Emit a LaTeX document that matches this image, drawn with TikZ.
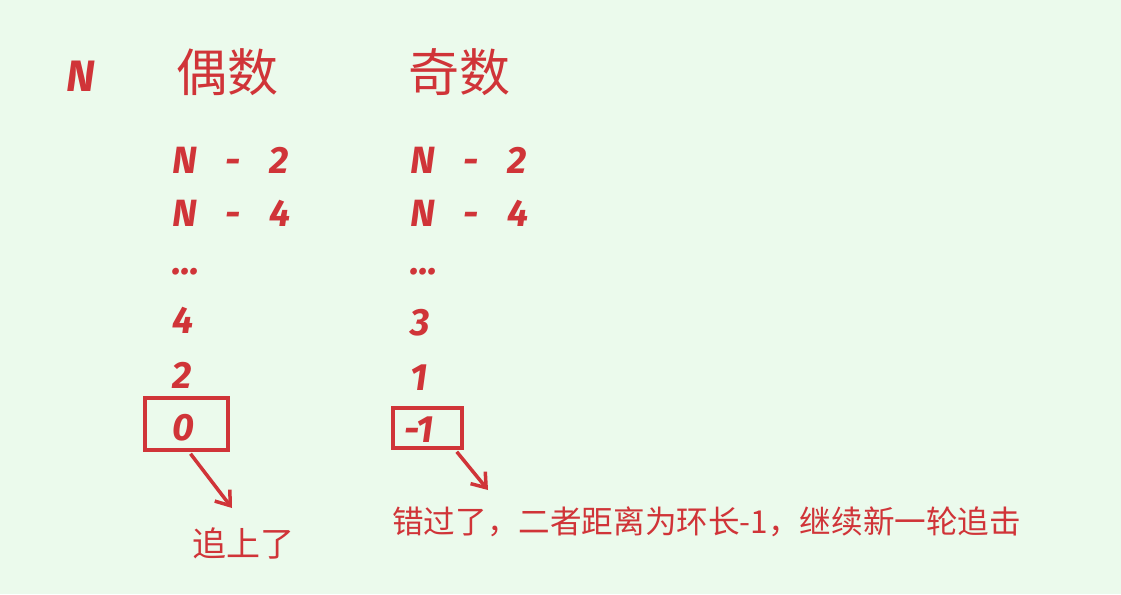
\documentclass[tikz,border=0pt]{standalone}
\usepackage{fontspec}
\setmainfont{Fira Sans}
\newfontfamily\cjk{Noto Sans CJK SC}
\usetikzlibrary{arrows.meta, positioning}
\definecolor{inkred}{HTML}{D03438}
\definecolor{paper}{HTML}{EBFAEC}
\newcommand{\gap}{\hspace{0.75em}}
\tikzset{
  hand/.style={text=inkred, anchor=west, inner sep=0pt, font=\fontsize{38}{40}\selectfont\itshape\bfseries},
  head/.style={text=inkred, anchor=west, inner sep=0pt, font=\fontsize{51}{53}\selectfont\cjk},
  note/.style={text=inkred, anchor=west, inner sep=0pt, font=\fontsize{31.6}{33}\selectfont\cjk},
  hit/.style={draw=inkred, line width=3.5pt},
  pointer/.style={draw=inkred, line width=3.5pt, -{Straight Barb[length=13pt, width=19pt, line width=3.5pt]}}
}
\begin{document}
\begin{tikzpicture}[x=1pt, y=-1pt]
\fill[paper] (0,0) rectangle (1121,594);
\useasboundingbox (0,0) rectangle (1121,594);

% headings
\node[hand, font=\fontsize{44}{46}\selectfont\itshape\bfseries] (n) at (66,76) {N};
\node[head] (even) at (176,72) {偶数};
\node[head] (odd) at (408,72) {奇数};

% even column
\node[hand] (e1) at (172,160) {N\gap-\gap2};
\node[hand] (e2) at (172,213) {N\gap-\gap4};
\node[hand] (e3) at (172,272) {...};
\node[hand] (e4) at (172,320) {4};
\node[hand] (e5) at (172,375) {2};
\node[hand] (e6) at (172,428) {0};
\node[hit, minimum width=83pt, minimum height=52pt] (b0) at (186.5,424) {};

% odd column
\node[hand] (o1) at (410,160) {N\gap-\gap2};
\node[hand] (o2) at (410,213) {N\gap-\gap4};
\node[hand] (o3) at (410,272) {...};
\node[hand] (o4) at (410,323) {3};
\node[hand] (o5) at (410,378) {1};
\node[hand] (o6) at (404,430) {-1};
\node[hit, minimum width=69pt, minimum height=40pt] (b1) at (427.5,428) {};

% arrows and notes
\coordinate (t0) at (232,508);
\coordinate (t1) at (488,490);
\draw[pointer] (b0.south) ++(4,2) -- (t0);
\draw[pointer] (b1.south east) ++(-7,2) -- (t1);
\node[note, font=\fontsize{34}{36}\selectfont\cjk] (caught) at (192,543) {追上了};
\node[note] (missed) at (392,522) {错过了，二者距离为环长-1，继续新一轮追击};
\end{tikzpicture}
\end{document}
